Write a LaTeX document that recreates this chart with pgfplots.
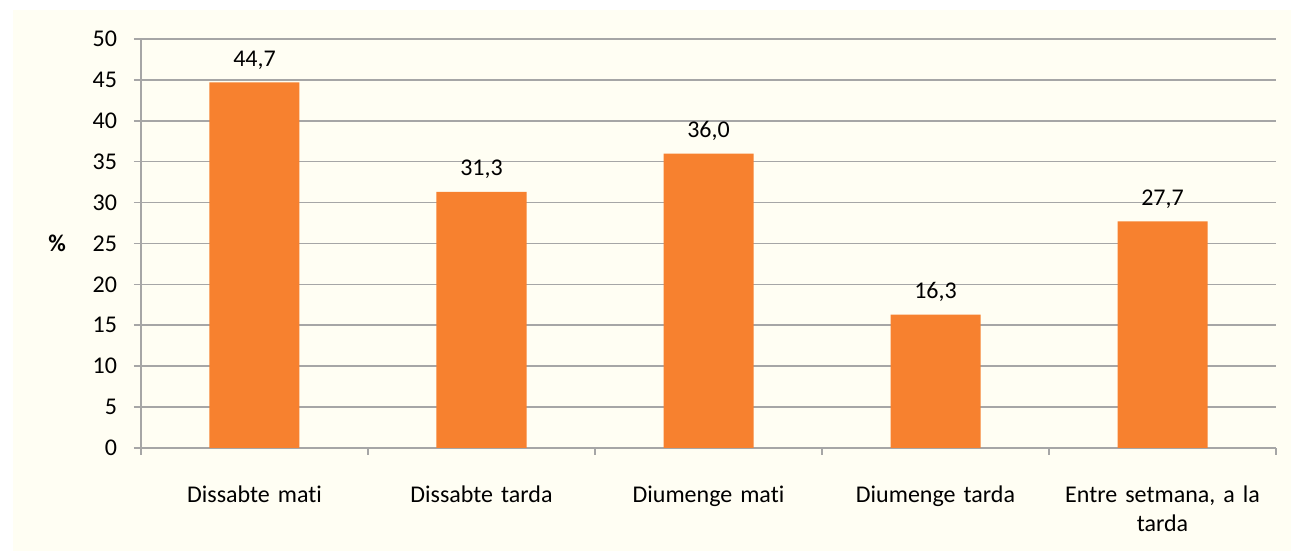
\documentclass[border=0pt]{standalone}
\usepackage{fontspec}
\setmainfont{Carlito}[Ligatures={NoCommon}]
\usepackage{pgfplots}
\pgfplotsset{compat=1.18}
\definecolor{barorange}{HTML}{F7812F}
\definecolor{cream}{HTML}{FFFEF3}
\definecolor{gridgray}{HTML}{A6A6A6}

\begin{document}
\begin{tikzpicture}[x=1pt,y=1pt]
% 1 px of the reference = 0.5pt; axis lower left corner at (0,0)
\useasboundingbox (-70.5,-51.5) rectangle (575,224);
\fill[white] (-70.5,-51.5) rectangle (575,224);
\fill[cream] (-64,-51.5) rectangle (575,219);
\begin{axis}[
    at={(0,0)}, anchor=south west,
    scale only axis,
    width=567.5pt, height=204.5pt,
    ybar, bar width=45pt,
    xmin=-0.5, xmax=4.5,
    ymin=0, ymax=50,
    ytick={0,5,...,50},
    xtick={-0.5,0.5,1.5,2.5,3.5,4.5},
    x tick label as interval,
    xticklabels={Dissabte mati, Dissabte tarda, Diumenge mati, Diumenge tarda, {Entre setmana, a la\\tarda}},
    axis lines=left,
    axis line style={-, draw=gridgray, line width=0.8pt},
    ymajorgrids,
    grid style={draw=gridgray, line width=0.8pt},
    every tick/.style={draw=gridgray, line width=0.8pt},
    tick align=outside,
    major tick length=3.5pt,
    font=\fontsize{12}{14.5}\selectfont,
    /pgf/number format/assume math mode=true,
    yticklabel style={xshift=-5pt},
    xticklabel style={align=center, text width=110pt, yshift=-12pt},
    ylabel={\textbf{\%}},
    every axis y label/.style={at={(axis description cs:0,0.5)}, anchor=center, xshift=-42pt},
    nodes near coords,
    nodes near coords style={anchor=south, yshift=3pt, black,
        /pgf/number format/.cd, use comma, fixed, fixed zerofill, precision=1},
    clip=false,
]
\addplot[fill=barorange, draw=none] coordinates {
    (0,44.7) (1,31.3) (2,36.0) (3,16.3) (4,27.7)
};
\end{axis}
\end{tikzpicture}
\end{document}
